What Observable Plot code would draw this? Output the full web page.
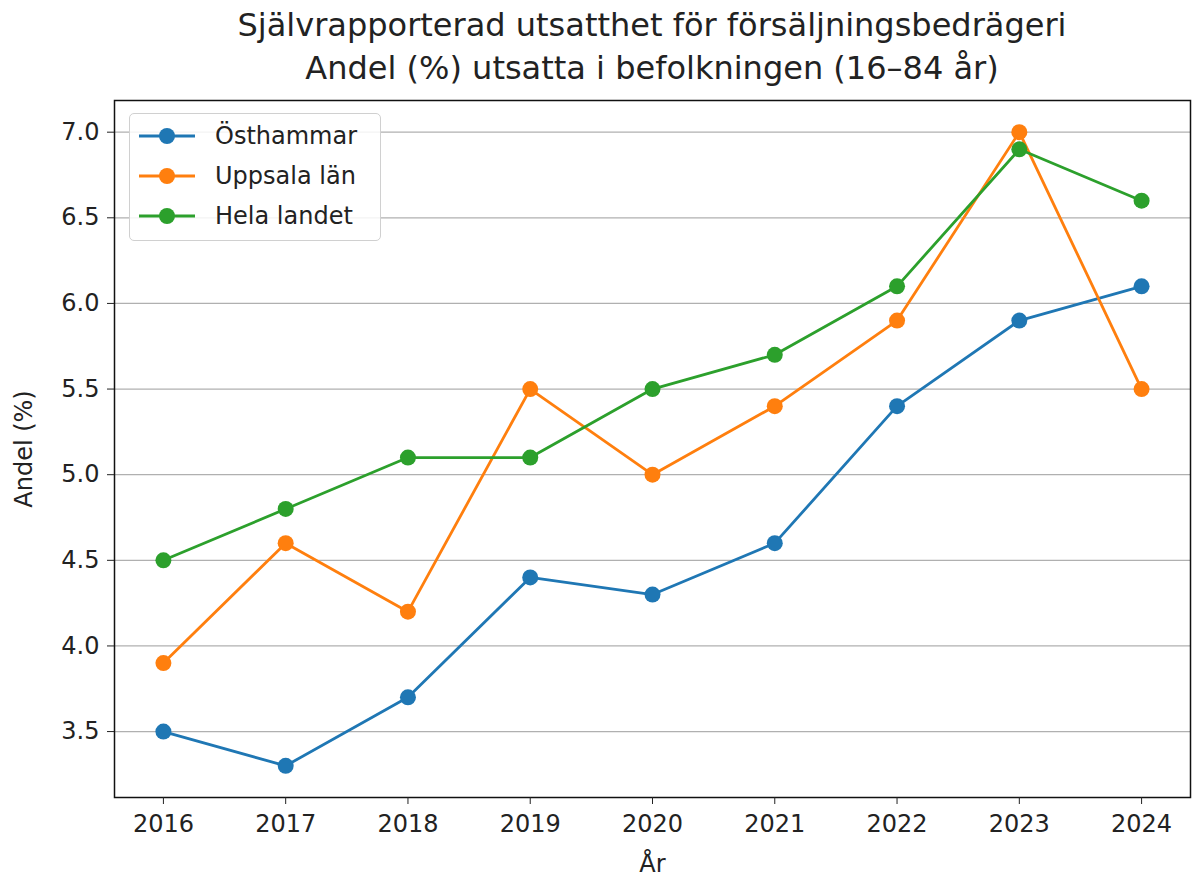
<!DOCTYPE html>
<html>
<head>
<meta charset="utf-8">
<script src="https://cdn.jsdelivr.net/npm/d3@7"></script>
<script src="https://cdn.jsdelivr.net/npm/@observablehq/plot@0.6"></script>
<style>
  html, body { margin: 0; padding: 0; background: #fff; }
  body { width: 1192px; height: 876px; overflow: hidden; font-family: "DejaVu Sans", sans-serif; color: #222; }
  #wrap { position: relative; width: 1192px; }
  #title { box-sizing: border-box; width: 1192px; height: 95px; padding: 4px 2px 0 114px; text-align: center; font-size: 32px; line-height: 43px; color: #222; white-space: nowrap; }
  #legend { position: absolute; left: 129px; top: 113px; width: 252px; height: 128px; box-sizing: border-box;
    border: 1px solid #d0d0d0; border-radius: 5px; background: rgba(255,255,255,0.85); font-size: 24px; }
  .row { position: absolute; left: 7px; height: 40px; display: flex; align-items: center; }
  .row svg { width: 60px; height: 20px; margin-right: 18px; }
</style>
</head>
<body>
<div id="wrap">
  <div id="title">Självrapporterad utsatthet för försäljningsbedrägeri<br>Andel (%) utsatta i befolkningen (16–84 år)</div>
  <div id="chart"></div>
  <div id="legend"></div>
</div>
<script>
const years = [2016, 2017, 2018, 2019, 2020, 2021, 2022, 2023, 2024];
const seriesNames = ["Östhammar", "Uppsala län", "Hela landet"];
const osthammar = [3.5, 3.3, 3.7, 4.4, 4.3, 4.6, 5.4, 5.9, 6.1];
const uppsala = [3.9, 4.6, 4.2, 5.5, 5.0, 5.4, 5.9, 7.0, 5.5];
const helaLandet = [4.5, 4.8, 5.1, 5.1, 5.5, 5.7, 6.1, 6.9, 6.6];
const colors = ["#1f77b4", "#ff7f0e", "#2ca02c"];
const yTicks = [3.5, 4.0, 4.5, 5.0, 5.5, 6.0, 6.5, 7.0];

const seriesValues = [osthammar, uppsala, helaLandet];
const data = [];
seriesNames.forEach((name, i) => {
  years.forEach((yr, j) => data.push({ series: name, year: yr, value: seriesValues[i][j] }));
});

const chart = Plot.plot({
  width: 1192,
  height: 781,
  marginLeft: 114,
  marginRight: 2,
  marginTop: 5,
  marginBottom: 79,
  style: { fontFamily: "DejaVu Sans, sans-serif", fontSize: "24px", color: "#222", background: "white" },
  x: { domain: [2015.6, 2024.4] },
  y: { domain: [3.115, 7.185] },
  color: { domain: seriesNames, range: colors },
  marks: [
    Plot.gridY(yTicks, { stroke: "#b0b0b0", strokeOpacity: 1, strokeWidth: 1.2 }),
    Plot.line(data, { x: "year", y: "value", stroke: "series", z: "series", strokeWidth: 2.8 }),
    Plot.dot(data, { x: "year", y: "value", fill: "series", r: 8 }),
    Plot.frame({ stroke: "#111", strokeWidth: 1.5 }),
    Plot.axisX(years, { tickSize: 7, tickPadding: 10, tickFormat: d => String(d), fontSize: 24, label: "År", labelAnchor: "center", labelArrow: "none", labelOffset: 74 }),
    Plot.axisY(yTicks, { tickSize: 7, tickPadding: 8, tickFormat: d => d.toFixed(1), fontSize: 24, label: "Andel (%)", labelAnchor: "center", labelArrow: "none", labelOffset: 100 })
  ]
});
document.getElementById("chart").appendChild(chart);

const legend = document.getElementById("legend");
seriesNames.forEach((name, i) => {
  const row = document.createElement("div");
  row.className = "row";
  row.style.top = (2 + i * 40) + "px";
  row.innerHTML = `<svg viewBox="0 0 60 20"><line x1="2" y1="10" x2="58" y2="10" stroke="${colors[i]}" stroke-width="2.8"/><circle cx="30" cy="10" r="8" fill="${colors[i]}"/></svg><span>${name}</span>`;
  legend.appendChild(row);
});
</script>
</body>
</html>
